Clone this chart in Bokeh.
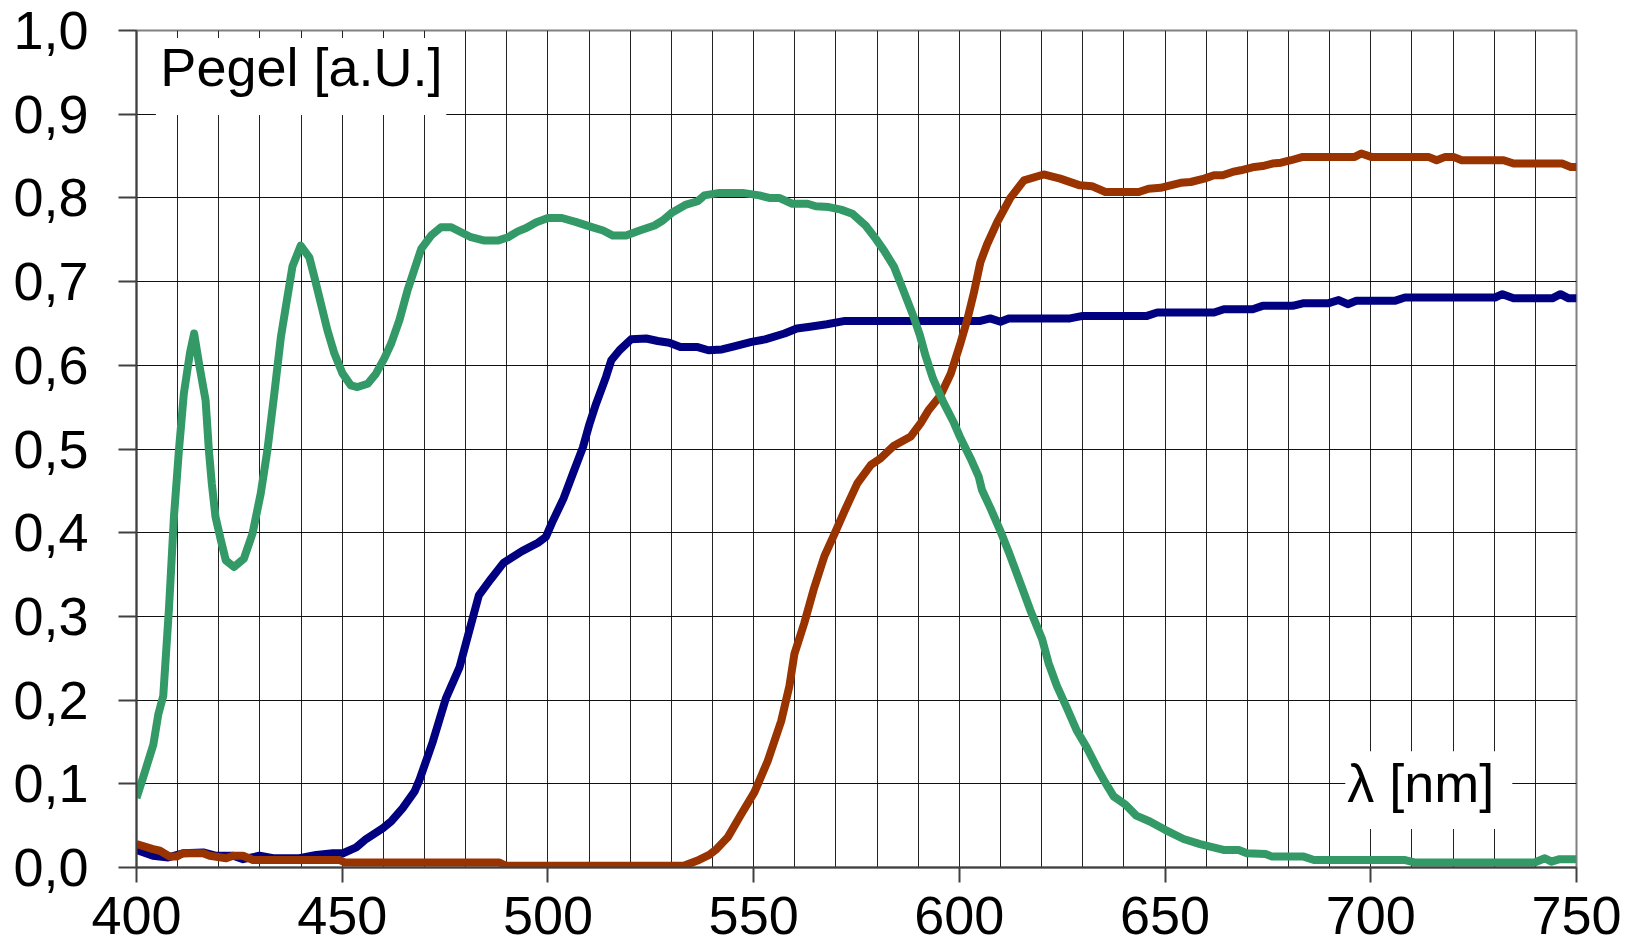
from bokeh.plotting import figure
from bokeh.models import FixedTicker, Range1d, Label, BoxAnnotation
from bokeh.embed import file_html
from bokeh.resources import INLINE

# ---- data ----
green_nm = [400, 401.7, 404.1, 405.3, 406.5, 407.9, 409.1, 410.3, 411.5, 413.0, 414.0, 415.2,
            416.8, 417.6, 418.3, 419.2, 420.5, 421.7, 423.7, 426.1, 428.2, 430.2, 431.8, 433.4,
            435.1, 436.3, 437.9, 439.9, 442.0, 443.2, 444.8, 446.4, 448.1, 450.1, 452.1, 453.7,
            456.2, 458.2, 460.2, 461.9, 463.9, 465.9, 467.5, 469.2, 471.6, 474.0, 476.5, 478.9,
            481.3, 484.6, 487.8, 490.3, 492.7, 494.7, 497.2, 500.0, 503.4, 506.9, 510.1, 513.4,
            515.8, 519.0, 522.3, 525.9, 527.9, 530.3, 533.6, 536.4, 538.0, 541.7, 547.3, 551.4,
            553.8, 556.2, 559.4, 563.1, 565.1, 568.3, 571.2, 574.0, 577.2, 579.7, 581.7, 584.1,
            586.5, 588.8, 590.4, 591.8, 593.6, 596.1, 598.7, 600.1, 602.7, 604.7, 605.5, 607.5,
            609.8, 612.0, 614.8, 617.2, 620.1, 621.7, 623.7, 626.1, 628.5, 631.0, 633.8, 635.4,
            637.5, 640.4, 643.0, 646.3, 650.0, 654.5, 658.5, 664.2, 667.9, 669.9, 674.4, 676.0,
            683.7, 686.2, 708.1, 710.6, 739.8, 742.3, 743.9, 745.9, 750.0]
green_val = [0.083, 0.109, 0.147, 0.183, 0.205, 0.310, 0.419, 0.498, 0.566, 0.615, 0.638, 0.602,
             0.558, 0.498, 0.459, 0.419, 0.391, 0.367, 0.359, 0.369, 0.399, 0.447, 0.498, 0.562,
             0.634, 0.670, 0.718, 0.743, 0.729, 0.706, 0.674, 0.642, 0.614, 0.590, 0.576, 0.574,
             0.578, 0.590, 0.608, 0.626, 0.654, 0.690, 0.714, 0.739, 0.755, 0.765, 0.765, 0.759,
             0.753, 0.749, 0.749, 0.753, 0.760, 0.764, 0.771, 0.776, 0.776, 0.771, 0.766, 0.761,
             0.755, 0.755, 0.761, 0.767, 0.773, 0.783, 0.792, 0.796, 0.803, 0.806, 0.806, 0.803,
             0.800, 0.800, 0.793, 0.793, 0.790, 0.789, 0.786, 0.781, 0.767, 0.751, 0.737, 0.718,
             0.688, 0.659, 0.636, 0.611, 0.584, 0.556, 0.531, 0.515, 0.489, 0.467, 0.451, 0.430,
             0.404, 0.377, 0.340, 0.308, 0.273, 0.244, 0.217, 0.191, 0.164, 0.143, 0.116, 0.102,
             0.085, 0.075, 0.062, 0.055, 0.045, 0.034, 0.028, 0.021, 0.021, 0.017, 0.016, 0.013,
             0.013, 0.009, 0.009, 0.006, 0.006, 0.011, 0.007, 0.010, 0.010]

blue_nm = [400, 404, 407.7, 411.3, 416.2, 419.4, 423.5, 425.9, 429.9, 433.2, 439.6, 443.7,
           447.7, 450.2, 453.4, 455.8, 459.9, 461.9, 464.7, 467.6, 468.8, 472.0, 475.2, 478.5,
           481.0, 483.2, 486.2, 489.2, 493.7, 497.6, 499.5, 501.0, 503.8, 506.1, 508.5, 510.1,
           511.7, 514.1, 515.4, 517.4, 520.2, 523.9, 526.7, 529.5, 532.2, 536.2, 539.0, 542.3,
           545.5, 549.5, 552.8, 557.5, 560.5, 563.7, 567.8, 572.2, 605.1, 607.5, 610.0, 612.0,
           626.9, 630.0, 645.6, 648.1, 661.9, 664.3, 671.3, 673.7, 681.0, 683.5, 689.6, 692.2,
           694.4, 696.5, 705.8, 708.3, 730.2, 732.0, 734.7, 744.1, 746.1, 748.1, 750.0]
blue_val = [0.021, 0.014, 0.012, 0.017, 0.018, 0.014, 0.014, 0.010, 0.014, 0.011, 0.011, 0.015,
            0.017, 0.017, 0.024, 0.034, 0.047, 0.055, 0.071, 0.091, 0.105, 0.150, 0.202, 0.239,
            0.285, 0.325, 0.345, 0.364, 0.378, 0.388, 0.395, 0.412, 0.441, 0.471, 0.502, 0.530,
            0.554, 0.586, 0.606, 0.618, 0.631, 0.632, 0.629, 0.627, 0.622, 0.622, 0.618, 0.619,
            0.623, 0.628, 0.631, 0.638, 0.644, 0.646, 0.649, 0.653, 0.653, 0.656, 0.652, 0.656,
            0.656, 0.659, 0.659, 0.663, 0.663, 0.667, 0.667, 0.671, 0.671, 0.674, 0.674, 0.678,
            0.673, 0.677, 0.677, 0.681, 0.681, 0.685, 0.680, 0.680, 0.685, 0.680, 0.680]

red_nm = [400, 404, 405.7, 408.1, 409.7, 411.3, 416.2, 417.8, 421.8, 423.5, 425.9, 428.3,
          449.4, 450.6, 488.2, 489.8, 533.0, 536.7, 539.2, 541.0, 543.7, 546.9, 550.2, 553.4,
          556.7, 558.7, 559.9, 562.3, 564.7, 567.2, 569.6, 572.0, 575.2, 578.5, 580.9, 584.1,
          588.2, 590.6, 592.6, 595.4, 597.9, 600.3, 601.9, 603.5, 605.1, 606.7, 609.2, 612.4,
          615.7, 620.5, 624.5, 629.3, 632.2, 635.5, 643.6, 646.0, 648.9, 651.3, 653.8, 656.2,
          659.5, 661.9, 664.0, 666.4, 668.4, 671.7, 673.7, 676.1, 678.2, 680.6, 683.5, 696.1,
          697.7, 700.1, 714.0, 716.0, 718.1, 720.1, 722.1, 732.3, 734.7, 746.5, 748.6, 750.0]
red_val = [0.028, 0.022, 0.020, 0.013, 0.013, 0.017, 0.017, 0.014, 0.011, 0.014, 0.014, 0.009,
           0.009, 0.006, 0.006, 0.002, 0.002, 0.009, 0.015, 0.022, 0.036, 0.063, 0.090, 0.127,
           0.175, 0.217, 0.255, 0.292, 0.334, 0.372, 0.398, 0.425, 0.459, 0.481, 0.489, 0.504,
           0.515, 0.531, 0.547, 0.564, 0.590, 0.627, 0.654, 0.686, 0.723, 0.744, 0.771, 0.800,
           0.821, 0.828, 0.823, 0.815, 0.814, 0.807, 0.807, 0.811, 0.812, 0.815, 0.818, 0.819,
           0.823, 0.827, 0.827, 0.831, 0.833, 0.837, 0.838, 0.841, 0.842, 0.845, 0.849, 0.849,
           0.853, 0.849, 0.849, 0.845, 0.849, 0.849, 0.845, 0.845, 0.841, 0.841, 0.837, 0.837]

x_ticks = [400, 450, 500, 550, 600, 650, 700, 750]
x_grid = list(range(400, 751, 10))
y_ticks = [0.0, 0.1, 0.2, 0.3, 0.4, 0.5, 0.6, 0.7, 0.8, 0.9, 1.0]
y_tick_labels = ["0,0", "0,1", "0,2", "0,3", "0,4", "0,5", "0,6", "0,7", "0,8", "0,9", "1,0"]
y_title = "Pegel [a.U.]"
x_title = "λ [nm]"

FONT = "Liberation Sans"
FS = "54px"

p = figure(width=1632, height=946, output_backend="svg", toolbar_location=None,
           x_range=Range1d(400, 750), y_range=Range1d(0, 1.0),
           min_border_left=136, min_border_right=56, min_border_top=30, min_border_bottom=79)
p.background_fill_color = "white"
p.border_fill_color = "white"
p.outline_line_color = "#808080"
p.outline_line_width = 2

# axes
p.xaxis.ticker = FixedTicker(ticks=x_ticks)
p.yaxis.ticker = FixedTicker(ticks=y_ticks)
p.yaxis.major_label_overrides = {t: s for t, s in zip(y_ticks, y_tick_labels)}
for ax in (p.xaxis, p.yaxis):
    ax.major_label_text_font = FONT
    ax.major_label_text_font_size = FS
    ax.major_label_text_color = "black"
    ax.axis_line_color = "#404040"
    ax.axis_line_width = 2
    ax.major_tick_line_color = "#404040"
    ax.major_tick_line_width = 2
    ax.minor_tick_line_color = None
    ax.major_tick_in = 0
p.xaxis.major_tick_out = 15
p.xaxis.major_label_standoff = 14
p.yaxis.major_tick_out = 18
p.yaxis.major_label_standoff = 30

# grid
p.xgrid.ticker = FixedTicker(ticks=x_grid)
p.xgrid.grid_line_color = "#222222"
p.xgrid.grid_line_width = 1
p.ygrid.grid_line_color = "#111111"
p.ygrid.grid_line_width = 1

# curves
p.line(blue_nm, blue_val, line_color="#000080", line_width=8, line_join="round")
p.line(red_nm, red_val, line_color="#993300", line_width=8, line_join="round")
p.line(green_nm, green_val, line_color="#339966", line_width=8, line_join="round")

# text boxes
p.add_layout(BoxAnnotation(left=404.7, right=475.3, bottom=0.899, top=0.991,
                           fill_color="white", fill_alpha=1.0, line_color=None))
p.add_layout(Label(x=405.8, y=0.956, text=y_title, text_font=FONT, text_font_size=FS,
                   text_color="black", text_align="left", text_baseline="alphabetic"))
p.add_layout(BoxAnnotation(left=693.8, right=734.4, bottom=0.046, top=0.139,
                           fill_color="white", fill_alpha=1.0, line_color=None))
p.add_layout(Label(x=694.3, y=0.101, text=x_title, text_font=FONT, text_font_size=FS,
                   text_color="black", text_align="left", text_baseline="alphabetic"))

open("out.html", "w").write(file_html(p, INLINE))
